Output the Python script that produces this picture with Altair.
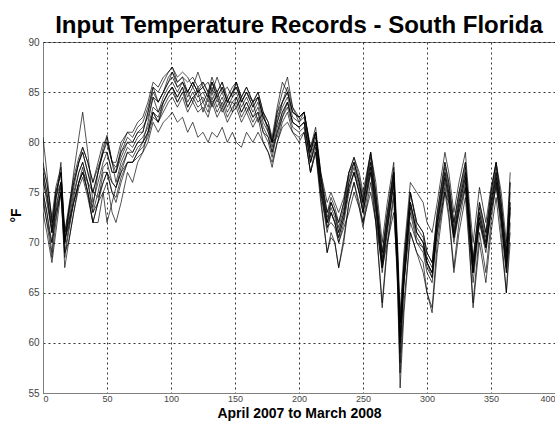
import altair as alt
import pandas as pd

days = [0,3,7,10,14,17,20,24,28,31,35,39,43,47,50,54,57,61,66,70,74,78,82,86,90,94,98,101,105,109,
        113,117,121,125,129,132,136,140,144,148,151,155,159,164,168,172,176,179,183,187,191,195,200,204,209,213,217,222,225,228,
        231,235,239,243,247,250,256,260,265,269,274,277,279,282,287,292,297,300,304,308,314,317,321,325,330,333,336,341,346,350,
        354,358,362,365]

s01 = [77,75,71,75,77,70,73,76,78,79, 77,75,77,79,79,77,77,79,80,80, 81,81,83,85,84,85,86,87,86,86.5,
       85,86,85,86,85,86,85,86,84,85, 86,84,85,84,85,83,82,80,83,84, 85,83,82.5,83,79,81,77,73,74,73,
       72,74,77,78,76,74,79,75,69,73, 77,69,60,68,75,72,71,69,68,73, 78,76,72,75,78,73,68,74,71,75, 78,74,69,76]
s02 = [80.5,77,72,73,75,68.5,71,74,76,77, 75,72,74,77,77,75,74,76,78,78, 79,80,81,83,82,84,85,85.5,84,85,
       85,84,85.5,84,85,83.5,85,83.5,84.5,83, 84.5,83,84,82.5,83,81,80.5,79,81,83, 84,82,81.5,82,78,80,75,71,73,72,
       70,72,75,77,75,73,77,73,67,71, 76,67,58,66,73,70,69,67,66,71, 76,74,70,73,76,71,66,72,69,73, 76,72,67,73]
s03 = [75,73,69,73.5,76,70,73,77,80.5,83, 79,74,76,78,79,77,77,78.5,80,79.5, 80.5,81,83,85.5,84,85,86.5,87,85.5,86,
       85,86,85,85.5,84.5,86,84.5,85.5,84,85, 85.5,84,85,83.5,84.5,82.5,81.5,80,82.5,84, 85,83,82.5,83,79,81,76.5,72.5,74,73,
       71.5,73.5,76.5,78,76,74,78.5,74.5,68.5,72.5, 77,68.5,62,67.5,75,71.5,70.5,68.5,67.5,72.5, 77.5,75.5,71.5,74.5,77.5,72.5,68,73.5,70.5,74.5, 77.5,73.5,68.5,75]
s04 = [74,72,70,72.5,75,71,72,74,76,77, 76,75,74.5,76,77,76,75.5,77,78,78, 78.5,79,80,82,81,82,82.5,83,82,82.5,
       81,82,80.5,81,80,81,80.5,81.5,80,81, 80,79.5,81,80,81,80,79,78,80,81.5, 82,81,80,81,77,79,75,71.5,72,71.5,
       70,71.5,73,75,73.5,72,75,72,67.5,70, 73,67,62,66,72,70,69.5,68,67,71, 75,74,70.5,73,75.5,71,67,72,69.5,73, 75.5,72,67,71]
s05 = [77,75,71.5,74.5,77,70,72.5,75.5,78,79, 77,75,77,79,80,78,77,79.5,81,80.5, 81.5,82,83.5,85.5,85,86,87,87.5,86.5,87,
       86.5,85.5,87,85.5,86,85,86.5,85,85.5,84.5, 86,84.5,85.5,84,84.5,82.5,81.5,80,82,84, 85.5,83.5,82,83,79.5,81,76.5,72,74,73,
       71,73,76,78,76,74,78,74,68,72, 77,68,59,66,74,71,70,68,66.5,72, 77,75,71,74,77,72,67,73,70,74, 77,73,68,74]
s06 = [73,71,68,71,75,69,70,73,76,77.5, 75,72,72,75,76,73,72,74,77,76, 78,79,81,83,82,83.5,84.5,85,84,85,
       83.5,84.5,83.5,84,83,84.5,83,84,82.5,83.5, 84,82.5,83.5,82,83,81,80,78.5,81,82.5, 83.5,81.5,81,81.5,77,79.5,74.5,69,71,70,
       67.5,70,74,76,74,72,77,72,64,70, 75,66,57,64,71,69,68,65,63.5,70, 75.5,73,67.5,72,75.5,70,64,71,67,72, 76,71,65,72]
s07 = [78,76,72,75,77,71,73,76,78,79.5, 78,76,77.5,79,80.5,78,77.5,79,80.5,80, 81,81.5,82.5,84.5,84,85,86,86.5,85.5,86,
       85,86,85,85.5,84.5,86,84.5,85.5,84,85, 85.5,84,85,83.5,84.5,82.5,81.5,80,83,85, 86.5,83.5,82.5,83,79.5,81.5,77,74,75,74,
       73,74.5,77,78.5,77,75,79,76,70,74, 78,70,63,69,76,75,74,72,71,74, 79,77,73,76,79,74,70,75.5,72,75.5, 78,75,70,77]
s08 = [76,74.5,71,73,76,70.5,71.5,74.5,77,78, 76,73,75,77.5,78,76,75.5,77.5,79,79, 80,80.5,81.5,83.5,83,84,85,85.5,84.5,85.5,
       83.5,84.5,85,83,84.5,84,84.5,83,84,84, 84.5,83,84,82.5,83.5,81.5,80.5,79,81.5,83, 84,82,81.5,82,78,80,75.5,71.5,73,72,
       70.5,72.5,75.5,77,75,73,77.5,73.5,67.5,71.5, 76,67.5,60.5,66.5,73.5,70.5,69.5,67.5,66.5,71.5, 76.5,74.5,70.5,73.5,76.5,71.5,67,72.5,69.5,73.5, 76.5,72.5,67.5,73.5]
s09 = [75,73,70,74,78,70,72,75,77,78, 76,73.5,77,79.5,80.7,78,76,78,79.5,79, 80,80,82,84.5,83,84.5,85.5,86,85,86,
       84.5,85.5,84.5,85,84,85.5,84,85,83.5,84.5, 85,83.5,84.5,83,84,82,81,79.5,82,83.5, 84.5,82.5,82,82.5,78.5,80.5,76,72,73.5,72.5,
       71,73,76,77.5,75.5,73.5,78,74,68,72, 76.5,68,61,67,74,71,70,68,67,72, 77,75,71,74,77,72,67.5,73,70,74, 77,73,68,74]
s10 = [76.5,74,71,74.5,76,69,71.5,74,76,77, 75,73,74,75,72,74,75.5,77,79,78.5, 79.5,80,81,83,82.5,84,85,85.5,84.5,85.5,
       84,85,84,84.5,83.5,85,83.5,84.5,83,84, 83.5,84.5,83,84,82,83,81,80,80.5,82.5, 84,82,81.5,82,78,80,75.5,72,73,72,
       70.5,72.5,75.5,77,75,73,77.5,73.5,67.5,71.5, 76,67.5,60,66.5,74,71,70,68,67,72, 76.5,74.5,70.5,73.5,76.5,71.5,67,72.5,69.5,73.5, 76.5,72.5,67.5,73.5]
s11 = [74.5,72,68.5,72,75.5,67.5,70,73,75.5,76.5, 74.5,72,74,76,77,75,74.5,76.5,78,78, 79,79.5,80.5,82.5,82,83,84,84.5,83.5,84.5,
       83,84,83,83.5,82.5,84,82.5,83.5,82,83, 83.5,82,83,81.5,82.5,80,79,77.5,80,82, 83,81,80.5,81,77,79,74,69,70.5,70,
       67.5,70.5,74,76,73.5,71.5,76,72,63.5,69.5, 74.5,65.5,55.5,63,71,69,67,65,63,69, 75,72.5,67,71,74.5,69.5,63.5,70,66,71, 74.5,70,65,70]
s12 = [77.5,76,72.5,75.5,77.5,71,73.5,76.5,78.5,79.5, 78,76,78,80,80,78,78,80,81,81, 82,82.5,84,86,85.5,86.5,87,87.5,86,86.5,
       86,86.5,85.5,86,85,86.5,85,86,84.5,85.5, 86,84.5,85.5,84,85,83,82,80.5,83.5,86, 85,83,82.5,83,79,81,76.5,73,74.5,73.5,
       72,74,77,78.5,76.5,74.5,79,75,69,73, 77.5,69,62,68,75,72,71,69,68,73, 78,76,72,75,78,73,68.5,74,71,75, 78,74,69,76]

series = {"s01": s01, "s02": s02, "s03": s03, "s04": s04, "s05": s05, "s06": s06,
          "s07": s07, "s08": s08, "s09": s09, "s10": s10, "s11": s11, "s12": s12}

x_ticks = [0, 50, 100, 150, 200, 250, 300, 350, 400]
y_ticks = [55, 60, 65, 70, 75, 80, 85, 90]

rows = []
for name, vals in series.items():
    for d, v in zip(days, vals):
        rows.append({"day": d, "temp": v, "series": name})
df = pd.DataFrame(rows)

chart = alt.Chart(df).mark_line(color="black", strokeWidth=0.8, opacity=0.85, clip=True).encode(
    x=alt.X("day:Q", scale=alt.Scale(domain=[0, 400], nice=False),
            axis=alt.Axis(values=x_ticks, title="April 2007 to March 2008", format="d",
                          labelFontSize=9, labelPadding=1,
                          titleX=256, titleY=24, titleAlign="center", titleBaseline="alphabetic")),
    y=alt.Y("temp:Q", scale=alt.Scale(domain=[55, 90], nice=False, zero=False),
            axis=alt.Axis(values=y_ticks, title="°F", titleX=-27, titleY=173,
                          titleAngle=-90, titleAlign="center", titleBaseline="middle")),
    detail="series:N",
).properties(
    width=512, height=351,
    autosize="none",
    padding={"left": 43, "top": 42, "right": 0, "bottom": 28},
    title=alt.TitleParams(text="Input Temperature Records - South Florida", fontSize=24,
                          fontWeight="bold", font="Liberation Sans", anchor="middle",
                          frame="group", baseline="alphabetic", offset=11, dy=31, color="black"),
).configure_axis(
    grid=True, gridColor="black", gridDash=[2, 3], gridOpacity=0.8, gridWidth=1,
    domainColor="#808080", domainWidth=1, ticks=False,
    labelFont="Liberation Sans", labelFontSize=10, labelColor="#444444", labelPadding=4,
    titleFont="Liberation Sans", titleFontSize=14, titleFontWeight="bold", titleColor="black",
).configure_view(stroke="#808080", strokeWidth=1)

chart.save("out.html", embed_options={"renderer": "svg", "actions": False})
